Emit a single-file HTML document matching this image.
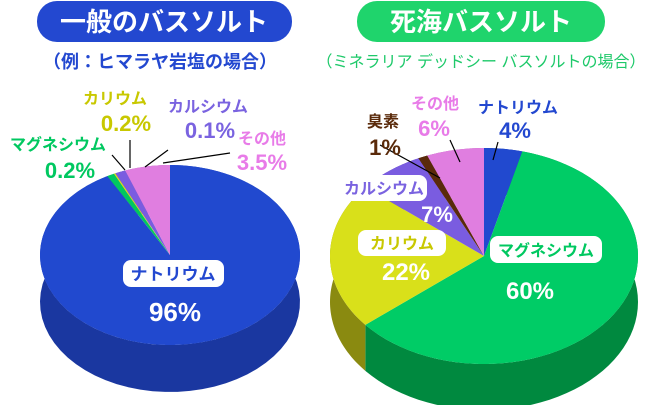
<!DOCTYPE html>
<html><head><meta charset="utf-8"><style>
body{margin:0;width:650px;height:405px;background:#fff;overflow:hidden;font-family:"Liberation Sans","Noto Sans CJK JP",sans-serif}
svg{position:absolute;left:0;top:0}
</style></head><body>
<svg id="s" width="650" height="405" viewBox="0 0 650 405" font-family="Liberation Sans, Noto Sans CJK JP, sans-serif" font-weight="bold"></svg>
<script>
const NS="http://www.w3.org/2000/svg";const s=document.getElementById('s');
function el(t,a,txt){const e=document.createElementNS(NS,t);for(const k in a)e.setAttribute(k,a[k]);if(txt!==undefined)e.textContent=txt;s.appendChild(e);return e;}
function pie(cx,cy,rx,ry,d,sl){
 let a=0;const parts=[];
 sl.forEach(p=>{const a0=a,a1=a+p[0]*3.6;a=a1;parts.push([a0,a1,p[1],p[2]]);});
 const pt=(t,dy)=>{const r=t*Math.PI/180;return [cx+rx*Math.sin(r),cy-ry*Math.cos(r)+dy];};
 parts.forEach(p=>{let top=[],bot=[];for(let t=p[0];t<=p[1]+0.001;t+=Math.max(0.5,(p[1]-p[0])/60)){top.push(pt(t,0));bot.push(pt(t,d));}
  top.push(pt(p[1],0));bot.push(pt(p[1],d));
  const pts=top.concat(bot.reverse());el('polygon',{points:pts.map(q=>q.join(',')).join(' '),fill:p[3]});});
 parts.forEach(p=>{let pts=[[cx,cy]];for(let t=p[0];t<=p[1]+0.001;t+=0.5)pts.push(pt(t,0));pts.push(pt(p[1],0));
  el('polygon',{points:pts.map(q=>q.join(',')).join(' '),fill:p[2]});});
}
pie(170,255,130,90,47,[[92,'#2149cf','#1a37a0'],[0.9,'#00c860','#00964a'],[0.2,'#d8df1a','#8a8a10'],[1.3,'#7a5ce0','#5a44a8'],[5.6,'#e07ee0','#a85aa8']]);
pie(484,256,154,108,46,[[4,'#2149cf','#1a37a0'],[60,'#00cc66','#00893f'],[22,'#d9e01a','#8a8a10'],[7,'#7a5ce0','#5a44a8'],[1,'#5a2a0a','#3a1a05'],[6,'#e07ee0','#a85aa8']]);
el('rect',{x:37,y:1,width:255,height:41,rx:20,fill:'#2348d0'});
el('text',{x:164,y:31,'text-anchor':'middle',fill:'#fff','font-size':26},'一般のバスソルト');
el('rect',{x:357,y:1,width:248,height:41,rx:20,fill:'#1fd46c'});
el('text',{x:481,y:31,'text-anchor':'middle',fill:'#fff','font-size':26},'死海バスソルト');
el('text',{x:160,y:68,'text-anchor':'middle',fill:'#2348d0','font-size':18},'（例：ヒマラヤ岩塩の場合）');
el('text',{x:481,y:67,'text-anchor':'middle',fill:'#1ec96a','font-size':16,'font-weight':'normal'},'（ミネラリア デッドシー バスソルトの場合）');
[[130,140,130,168],[168,150,145,167],[230,153,163,163],[112,155,125,170],
 [380,145,440,178],[450,140,460,162],[498,142,493,160]].forEach(l=>el('line',{x1:l[0],y1:l[1],x2:l[2],y2:l[3],stroke:'#000','stroke-width':1.2}));
function t(x,y,str,c,fs,anc){el('text',{x:x,y:y,fill:c,'font-size':fs,'text-anchor':anc||'middle'},str);}
t(115,104,'カリウム','#c8c800',16);t(126,131,'0.2%','#c8c800',22);
t(208,112,'カルシウム','#7a63e0',16);t(210,138,'0.1%','#7a63e0',22);
t(262,144,'その他','#e87be8',16);t(262,170,'3.5%','#e87be8',22);
t(58,150,'マグネシウム','#00c860',16);t(70,178,'0.2%','#00c860',22);
el('rect',{x:123,y:260,width:101,height:27,rx:8,fill:'#fff'});
t(173,280,'ナトリウム','#2348d0',17);t(175,321,'96%','#fff',26);
t(518,113,'ナトリウム','#2348d0',16);t(515,138,'4%','#2348d0',22);
t(435,109,'その他','#e87be8',16);t(434,136,'6%','#e87be8',22);
t(383,127,'臭素','#5a2a0a',16);t(385,155,'1%','#5a2a0a',22);
el('rect',{x:342,y:175,width:85,height:26,rx:8,fill:'#fff'});t(384,194,'カルシウム','#7a63e0',16);t(437,222,'7%','#fff',22);
el('rect',{x:358,y:230,width:88,height:26,rx:8,fill:'#fff'});t(402,249,'カリウム','#c8c800',16);t(406,280,'22%','#fff',24);
el('rect',{x:490,y:236,width:112,height:27,rx:8,fill:'#fff'});t(546,256,'マグネシウム','#00c860',16);t(530,299,'60%','#fff',24);
</script>
</body></html>
